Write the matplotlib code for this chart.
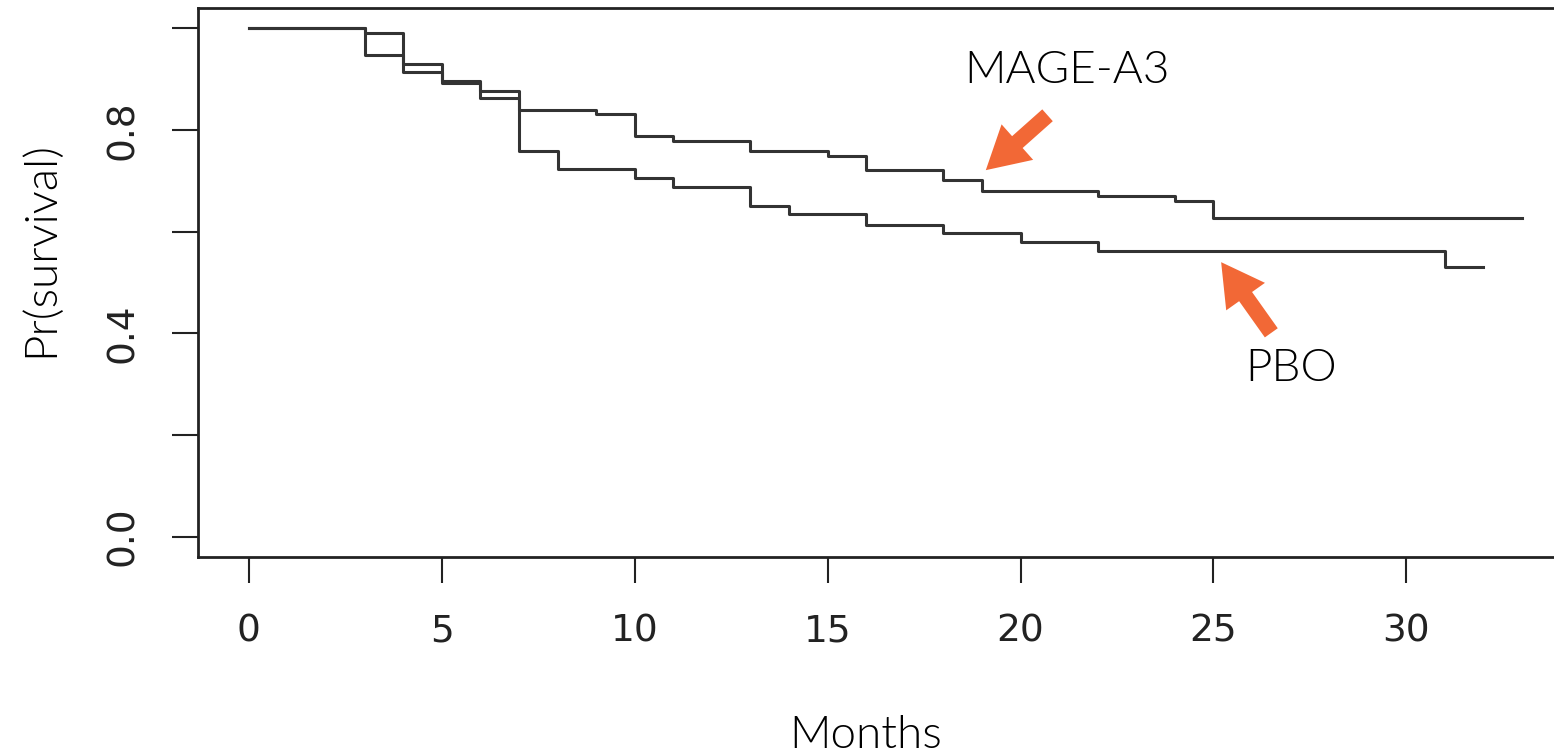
import matplotlib.pyplot as plt
import numpy as np

# step survival curves (month of change, survival after)
mage_months = [0, 3, 4, 5, 6, 7, 9, 10, 11, 13, 15, 16, 18, 19, 22, 24, 25, 33]
mage_surv = [1.0, 0.991, 0.929, 0.896, 0.862, 0.840, 0.831, 0.788, 0.778, 0.759,
             0.749, 0.721, 0.701, 0.680, 0.670, 0.660, 0.627, 0.627]

pbo_months = [0, 3, 4, 5, 6, 7, 8, 10, 11, 13, 14, 16, 18, 20, 22, 31, 32]
pbo_surv = [1.0, 0.947, 0.914, 0.892, 0.877, 0.758, 0.723, 0.706, 0.688, 0.651,
            0.634, 0.614, 0.597, 0.579, 0.561, 0.530, 0.530]

x_ticks = [0, 5, 10, 15, 20, 25, 30]
y_ticks = [0.0, 0.2, 0.4, 0.6, 0.8, 1.0]
y_tick_labels = ["0.0", "", "0.4", "", "0.8", ""]

orange = "#F26836"
line_col = "#333333"
label_font = "Lato"

fig = plt.figure(figsize=(15.54, 7.55), dpi=100)
# box runs past the right edge of the picture, as in the original
ax = fig.add_axes([198 / 1554, (755 - 557) / 755, (1573 - 198) / 1554, (557 - 8) / 755])

ax.step(mage_months, mage_surv, where="post", color=line_col, lw=2.2)
ax.step(pbo_months, pbo_surv, where="post", color=line_col, lw=2.2)

ax.set_xlim(-1.32, 34.32)
ax.set_ylim(-0.04, 1.04)

ax.set_xticks(x_ticks)
ax.set_yticks(y_ticks)
ax.set_yticklabels(y_tick_labels, rotation=90, va="center")
ax.tick_params(axis="both", length=19, width=1.5, color="#222222",
               labelsize=27, labelcolor="#222222", direction="out")
ax.tick_params(axis="x", pad=22)
ax.tick_params(axis="y", pad=22)
for s in ax.spines.values():
    s.set_linewidth(2)
    s.set_color("#222222")

txt = dict(fontsize=33, family=label_font, fontweight=300, color="black",
           ha="center", va="center")
fig.text(0.557, 0.026, "Months", **txt)
fig.text(0.026, 0.67, "Pr(survival)", rotation=90, **txt)

ax.text(21.2, 0.917, "MAGE-A3", **txt)
ax.text(27.0, 0.330, "PBO", **txt)

arrow_style = "simple,head_width=1.8,head_length=1.6,tail_width=0.6"
ax.annotate("", xy=(19.1, 0.721), xytext=(20.7, 0.829),
            arrowprops=dict(arrowstyle=arrow_style, color=orange, lw=0,
                            shrinkA=0, shrinkB=0, mutation_scale=19))
ax.annotate("", xy=(25.2, 0.540), xytext=(26.5, 0.401),
            arrowprops=dict(arrowstyle=arrow_style, color=orange, lw=0,
                            shrinkA=0, shrinkB=0, mutation_scale=19))

fig.savefig("out.png", dpi=100)
